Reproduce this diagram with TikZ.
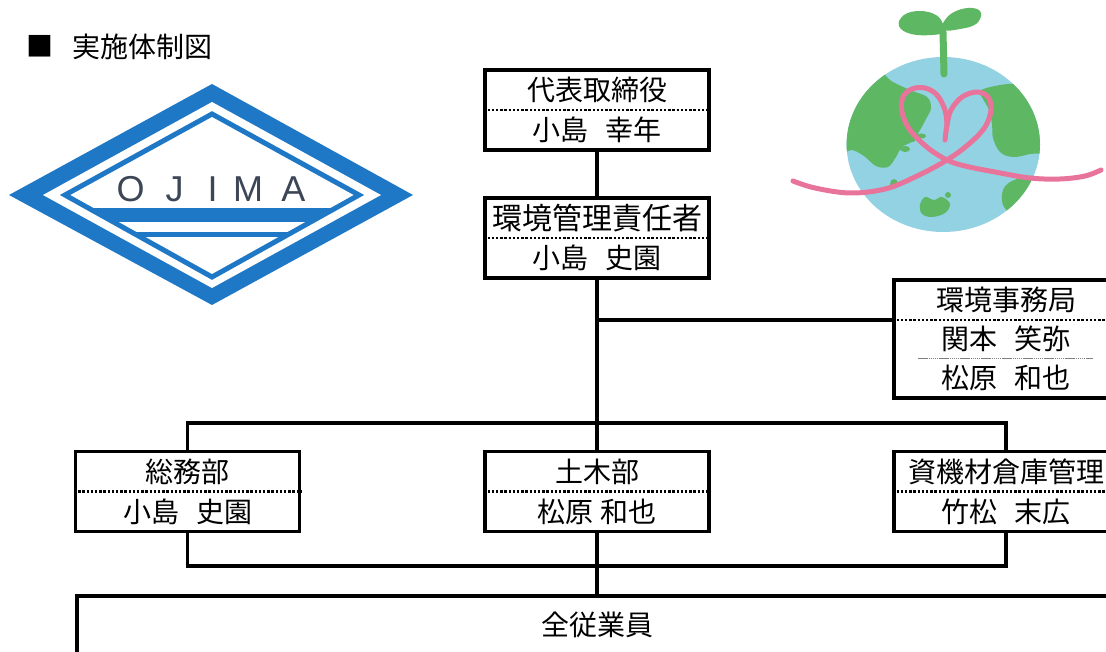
\documentclass[tikz,border=0pt]{standalone}
\usepackage{fontspec}
\newfontfamily\jp{Noto Sans CJK JP}
\newfontfamily\lat{Liberation Sans}
\definecolor{logoblue}{HTML}{1F78C6}
\definecolor{logoink}{HTML}{3C4656}
\definecolor{sea}{HTML}{92D2E2}
\definecolor{landgreen}{HTML}{5DB763}
\definecolor{ribbon}{HTML}{E8739B}
% ideographic space, narrowed to the spacing used in the names
\newcommand{\gap}{　\kern-11pt}
\begin{document}
\begin{tikzpicture}[x=1pt,y=-1pt,
  orgbox/.style={draw, line width=3.2pt, minimum width=224pt, minimum height=80pt, inner sep=0pt},
  seprule/.style={line width=2.6pt, dash pattern=on 2.4pt off 1.8pt},
  thinrule/.style={line width=0.8pt, gray, dash pattern=on 1.5pt off 0.6pt},
  conn/.style={line width=3.2pt},
  lbl/.style={font=\jp\fontsize{28}{28}\selectfont, inner sep=0pt},
  logoletter/.style={font=\lat\fontsize{36}{36}\selectfont, text=logoink, inner sep=0pt, anchor=base},
]
\useasboundingbox (0,0) rectangle (1106,652);
\clip (0,0) rectangle (1106,652);

% ---- heading ----
\node[lbl, font=\jp\fontsize{27}{27}\selectfont] (sq) at (39.5,46) {■};
\node[lbl] (title) at (142.5,47) {実施体制図};

% ---- company mark ----
\fill[logoblue] (9,195) -- (212,84) -- (413,195) -- (212,305) -- cycle;
\fill[white] (43,195) -- (212,102) -- (381,195) -- (212,288) -- cycle;
\begin{scope}
  \clip (65,195) -- (212,114) -- (359,195) -- (212,277) -- cycle;
  \fill[logoblue] (0,208) rectangle (420,222);
  \fill[logoblue] (0,232) rectangle (420,237);
\end{scope}
\draw[logoblue, line width=5pt, line join=miter] (65,195) -- (212,114) -- (359,195) -- (212,277) -- cycle;
\node[logoletter] (lO) at (130.5,201.5) {O};
\node[logoletter] (lJ) at (174.5,201.5) {J};
\node[logoletter] (lI) at (212.5,201.5) {I};
\node[logoletter] (lM) at (248,201.5) {M};
\node[logoletter] (lA) at (293.5,201.5) {A};

% ---- globe with sprout and ribbon ----
\fill[sea] (943.3,144.5) ellipse [x radius=96.7, y radius=87.5];
\begin{scope}
  \clip (943.3,144.5) ellipse [x radius=96.7, y radius=87.5];
  \fill[landgreen] plot[smooth cycle, tension=0.6] coordinates {
    (878,66) (890,80) (910,90) (927,97) (931,108) (926,119) (920,130) (913,141)
    (902,147) (896,157) (888,167) (876,166) (864,156) (852,150) (838,150) (830,100) (858,55)};
  \fill[landgreen] plot[smooth cycle, tension=0.6] coordinates {
    (980,91) (995,86) (1015,84) (1035,90) (1050,120) (1045,150) (1030,154) (1013,157)
    (1000,152) (993,138) (992,124) (989,110) (983,99)};
  \fill[landgreen] plot[smooth cycle, tension=0.6] coordinates {
    (1003,190) (1012,181) (1030,176) (1048,178) (1045,205) (1030,212) (1013,214) (1003,205)};
  \fill[landgreen] plot[smooth cycle, tension=0.6] coordinates {
    (920,205) (925,197) (934,200) (942,197) (950,204) (945,213) (932,217) (922,214)};
  \fill[landgreen] (948,195) circle [radius=3];
  \fill[landgreen] (894,184) ellipse [x radius=4, y radius=5];
  \fill[landgreen] (905,149) ellipse [x radius=5, y radius=3];
  \fill[landgreen] (921,136) ellipse [x radius=5, y radius=2.5];
  \fill[landgreen] (913,140) circle [radius=2];
\end{scope}
% sprout
\draw[landgreen, line width=7pt, line cap=round] (944,74) -- (943,32);
\fill[landgreen] plot[smooth cycle, tension=0.7] coordinates {
  (944,32) (932,35) (911,34) (899,26) (904,15) (920,11) (936,15) (943,24)};
\fill[landgreen] plot[smooth cycle, tension=0.7] coordinates {
  (943,30) (945,20) (956,11) (972,8) (981,13) (976,24) (960,29)};
% ribbon heart
\draw[ribbon, line width=5pt, line cap=round, line join=round]
  plot[smooth, tension=0.6] coordinates {
    (793,181) (815,188) (850,193) (885,189) (915,177) (947,160) (970,143) (985,127)
    (991,110) (988,97) (977,92) (962,97) (951,110) (947,125) (945,140)};
\draw[ribbon, line width=5pt, line cap=round, line join=round]
  plot[smooth, tension=0.6] coordinates {
    (1101,170) (1085,176) (1060,179) (1030,178) (995,172) (965,166) (947,160) (928,148)
    (910,130) (902,112) (903,97) (912,89) (925,88) (937,95) (945,110) (947,125)};

% ---- organisation boxes ----
\node[orgbox] (ceo) at (597,110) {};
\draw[seprule] (ceo.west) -- (ceo.east);
\node[lbl] (ceoT) at (597,90) {代表取締役};
\node[lbl] (ceoN) at (597,130) {小島\gap 幸年};

\node[orgbox] (mgr) at (597,238) {};
\draw[seprule] (mgr.west) -- (mgr.east);
\node[lbl, font=\jp\fontsize{30}{30}\selectfont] (mgrT) at (597,218) {環境管理責任者};
\node[lbl] (mgrN) at (597,258) {小島\gap 史園};

\coordinate (j1) at (597,320);
\node[orgbox, minimum height=118pt] (sec) at (1006,339) {};
\draw[seprule] (sec.west |- j1) -- (sec.east |- j1);
\draw[thinrule] (918,358) -- (1093,358);
\node[lbl] (secT) at (1006,300) {環境事務局};
\node[lbl] (secN1) at (1006,339) {関本\gap 笑弥};
\node[lbl] (secN2) at (1006,378) {松原\gap 和也};

\node[orgbox] (gen) at (187.5,491.5) {};
\draw[seprule] (gen.west) -- (gen.east);
\node[lbl] (genT) at (187.5,471.5) {総務部};
\node[lbl] (genN) at (187.5,511.5) {小島\gap 史園};

\node[orgbox] (civ) at (597,491.5) {};
\draw[seprule] (civ.west) -- (civ.east);
\node[lbl] (civT) at (597,471.5) {土木部};
\node[lbl] (civN) at (597,511.5) {松原 和也};

\node[orgbox] (mat) at (1006,491.5) {};
\draw[seprule] (mat.west) -- (mat.east);
\node[lbl] (matT) at (1006,471.5) {資機材倉庫管理};
\node[lbl] (matN) at (1006,511.5) {竹松\gap 末広};

\node[orgbox, minimum width=1040pt, minimum height=60pt] (all) at (597,626) {};
\node[lbl] (allT) at (597,625) {全従業員};

% ---- connectors ----
\coordinate (h1) at (597,423);
\coordinate (h2) at (597,566);
\draw[conn] (ceo.south) -- (mgr.north);
\draw[conn] (mgr.south) -- (civ.north);
\draw[conn] (j1) -- (sec.west |- j1);
\draw[conn, line join=miter] (gen.north) |- (h1) -| (mat.north);
\draw[conn, line join=miter] (gen.south) |- (h2) -| (mat.south);
\draw[conn] (civ.south) -- (all.north);
\end{tikzpicture}
\end{document}
